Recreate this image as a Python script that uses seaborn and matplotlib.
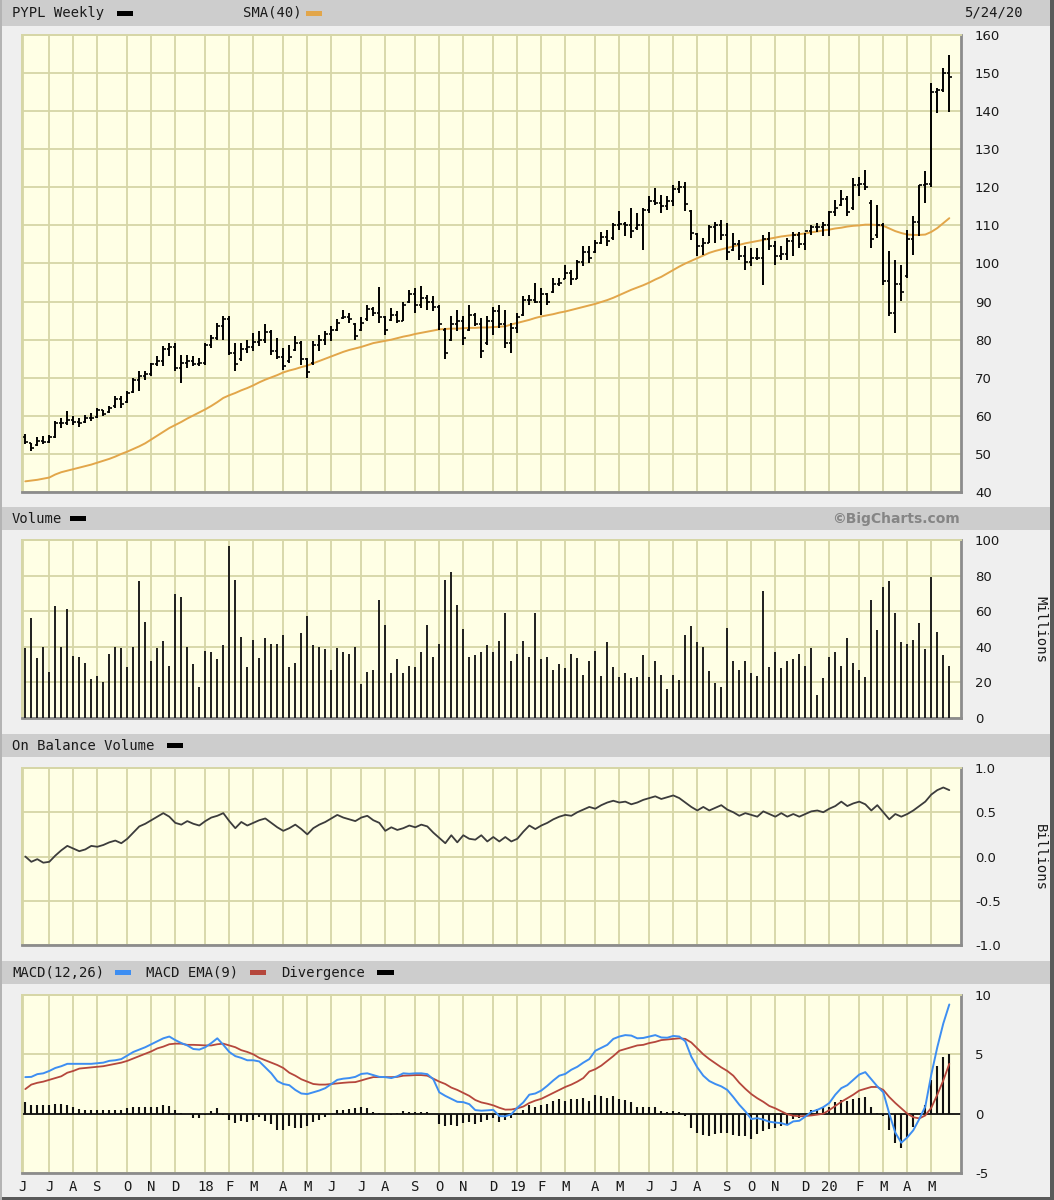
import numpy as np
import pandas as pd
import matplotlib
matplotlib.use("Agg")
import matplotlib.pyplot as plt
import seaborn as sns
from matplotlib.patches import Rectangle

# ---------------- data (weekly bars, PYPL) ----------------
first_week = "2017-06-09"
month_letters = ["J", "F", "M", "A", "M", "J", "J", "A", "S", "O", "N", "D"]

high = [55.2, 52.9, 54.5, 54.6, 55.0, 58.6, 59.5, 61.2, 59.9, 59.5,
        60.3, 60.8, 62.1, 61.6, 62.5, 65.1, 65.1, 66.4, 70.0, 71.7,
        71.7, 73.9, 75.6, 78.3, 79.1, 79.1, 76.1, 76.1, 75.6, 75.2,
        79.1, 81.3, 84.4, 86.1, 86.1, 79.1, 79.1, 80.0, 81.8, 82.2,
        84.0, 82.6, 80.4, 77.8, 78.7, 80.9, 79.6, 75.2, 79.6, 81.3,
        82.2, 83.5, 85.3, 87.9, 87.0, 84.4, 86.0, 89.0, 88.7, 93.8,
        86.1, 88.3, 87.4, 90.0, 93.0, 93.6, 94.0, 91.8, 91.4, 89.0,
        83.0, 86.1, 87.9, 86.1, 89.0, 86.9, 85.7, 86.1, 88.7, 89.0,
        87.9, 84.4, 87.0, 91.4, 91.8, 94.9, 93.6, 92.3, 96.2, 96.2,
        99.7, 98.4, 101.0, 104.5, 104.5, 106.3, 108.4, 108.9, 110.6, 113.7,
        111.0, 114.5, 113.3, 114.5, 117.6, 119.8, 118.0, 117.6, 120.7, 121.6,
        121.5, 114.1, 108.0, 106.7, 110.2, 111.0, 111.5, 110.6, 108.0, 106.2,
        104.5, 104.1, 104.1, 107.6, 108.4, 105.8, 104.5, 106.7, 108.4, 108.4,
        108.0, 110.2, 110.6, 111.0, 113.7, 116.7, 119.4, 117.6, 122.4, 122.8,
        124.6, 116.7, 115.4, 110.6, 103.2, 101.0, 99.7, 108.9, 112.4, 120.7,
        124.2, 147.3, 146.0, 151.3, 154.8]

low = [52.5, 50.7, 52.0, 52.5, 52.9, 54.2, 56.8, 57.7, 57.7, 57.1,
       58.1, 58.6, 59.5, 59.9, 60.8, 62.1, 62.1, 63.4, 66.0, 66.4,
       69.5, 70.4, 73.0, 73.0, 75.6, 71.7, 68.6, 72.6, 73.0, 73.0,
       73.4, 77.8, 80.0, 80.0, 76.1, 71.7, 74.3, 76.5, 77.0, 78.3,
       79.1, 76.1, 74.8, 72.1, 73.9, 76.9, 73.4, 70.0, 73.4, 76.9,
       78.7, 79.6, 82.2, 85.3, 84.4, 80.0, 82.2, 85.0, 86.1, 84.4,
       81.3, 84.8, 84.4, 84.8, 89.6, 87.0, 88.3, 87.9, 87.4, 82.6,
       74.8, 79.6, 82.2, 78.7, 82.2, 83.5, 75.2, 78.7, 81.3, 83.0,
       77.8, 76.5, 81.8, 86.1, 89.2, 89.6, 86.6, 89.2, 92.3, 94.0,
       95.8, 94.4, 95.8, 99.3, 100.0, 102.8, 105.0, 104.5, 106.3, 108.9,
       107.1, 106.7, 108.9, 103.6, 113.3, 115.4, 113.3, 114.1, 115.0, 118.5,
       113.7, 106.2, 101.9, 102.3, 105.4, 105.4, 106.2, 101.0, 103.2, 101.0,
       98.4, 99.3, 101.0, 94.4, 103.6, 99.7, 101.0, 101.0, 101.9, 104.1,
       103.6, 107.6, 108.4, 107.1, 107.1, 112.4, 115.0, 112.4, 114.1, 117.6,
       119.4, 104.1, 106.7, 94.4, 86.1, 81.8, 90.1, 96.2, 102.3, 107.1,
       115.9, 120.2, 139.5, 145.1, 139.9]

open_ = [54.5, 52.8, 52.3, 53.5, 53.0, 54.5, 58.0, 58.0, 59.0, 58.5,
         58.3, 59.5, 59.8, 61.5, 61.0, 62.5, 64.5, 63.6, 66.3, 69.5,
         70.5, 71.0, 73.5, 74.5, 77.5, 78.0, 72.5, 74.0, 74.5, 73.5,
         74.0, 78.5, 80.5, 83.5, 85.5, 76.5, 74.8, 77.5, 78.0, 79.5,
         80.0, 82.0, 77.0, 75.5, 74.3, 77.2, 79.0, 75.0, 73.8, 78.5,
         80.0, 81.5, 82.5, 85.6, 86.0, 84.0, 82.5, 85.3, 88.0, 87.0,
         86.0, 85.2, 86.5, 85.0, 89.9, 92.0, 89.0, 91.0, 90.0, 88.5,
         82.5, 80.0, 84.0, 85.0, 82.5, 86.5, 84.0, 79.0, 85.0, 87.5,
         84.0, 79.0, 83.0, 86.5, 90.5, 90.5, 90.0, 92.0, 92.6, 94.5,
         96.0, 97.5, 96.0, 100.5, 103.0, 103.0, 105.5, 107.0, 106.6, 110.0,
         110.5, 110.0, 109.2, 110.0, 114.0, 116.5, 116.0, 115.0, 116.5, 119.5,
         120.0, 113.8, 107.8, 104.5, 105.5, 109.5, 110.0, 107.5, 103.5, 105.0,
         102.0, 100.5, 101.5, 101.5, 106.5, 104.5, 102.0, 102.5, 106.0, 107.5,
         105.0, 108.5, 109.5, 109.5, 110.0, 113.5, 115.3, 117.0, 114.5, 120.5,
         121.0, 116.0, 107.5, 110.0, 95.5, 87.0, 94.5, 96.8, 106.5, 111.0,
         120.5, 121.0, 145.0, 145.5, 150.0]

close = [53.0, 51.5, 53.5, 53.0, 54.5, 58.0, 58.0, 59.0, 58.5, 58.0,
         59.5, 59.5, 61.5, 60.5, 62.0, 64.5, 63.0, 66.0, 69.5, 70.5,
         71.0, 73.5, 74.5, 77.5, 78.0, 72.5, 74.0, 74.5, 73.5, 74.0,
         78.5, 80.5, 83.5, 85.5, 76.5, 73.5, 77.5, 78.0, 79.5, 80.0,
         82.0, 77.0, 75.5, 73.0, 75.5, 79.0, 75.0, 71.5, 78.5, 80.0,
         81.5, 82.5, 84.5, 86.0, 85.5, 81.0, 84.5, 88.0, 87.0, 86.0,
         82.5, 86.5, 85.0, 89.0, 92.0, 89.0, 91.0, 90.0, 88.5, 84.0,
         76.5, 84.0, 85.0, 80.5, 86.5, 84.0, 77.0, 85.0, 87.5, 84.0,
         79.0, 83.0, 86.0, 90.5, 90.5, 90.0, 92.0, 90.0, 94.5, 95.0,
         97.5, 96.0, 100.5, 103.0, 101.5, 105.5, 107.0, 106.0, 110.0, 110.5,
         110.0, 108.5, 110.0, 114.0, 116.5, 116.0, 115.0, 116.5, 119.5, 120.0,
         115.5, 108.0, 104.5, 105.5, 109.5, 110.0, 107.5, 103.0, 105.0, 102.0,
         100.5, 101.5, 101.5, 106.5, 104.5, 102.0, 102.5, 106.0, 107.5, 105.0,
         108.5, 109.5, 109.5, 110.0, 113.5, 114.5, 117.0, 113.5, 120.5, 121.0,
         120.0, 106.5, 110.0, 95.5, 87.0, 94.5, 92.5, 106.5, 111.0, 120.5,
         121.0, 145.0, 145.5, 150.0, 149.0]

sma40 = [42.8, 43.0, 43.2, 43.5, 43.8, 44.6, 45.2, 45.6, 46.0, 46.4,
         46.8, 47.2, 47.7, 48.2, 48.7, 49.3, 50.0, 50.6, 51.3, 52.0,
         52.8, 53.8, 54.8, 55.8, 56.8, 57.6, 58.4, 59.3, 60.1, 60.9,
         61.7, 62.6, 63.6, 64.7, 65.4, 66.0, 66.7, 67.3, 68.0, 68.8,
         69.5, 70.1, 70.7, 71.4, 71.9, 72.3, 72.8, 73.2, 73.8, 74.4,
         75.0, 75.6, 76.2, 76.8, 77.3, 77.7, 78.1, 78.6, 79.1, 79.4,
         79.7, 80.0, 80.4, 80.8, 81.1, 81.5, 81.8, 82.1, 82.4, 82.7,
         82.8, 82.9, 82.9, 83.0, 83.1, 83.1, 83.2, 83.2, 83.3, 83.4,
         83.5, 84.0, 84.4, 84.8, 85.2, 85.7, 86.1, 86.4, 86.7, 87.1,
         87.4, 87.8, 88.2, 88.6, 89.0, 89.4, 89.9, 90.4, 91.0, 91.7,
         92.4, 93.1, 93.7, 94.3, 95.0, 95.8, 96.5, 97.4, 98.3, 99.2,
         100.0, 100.7, 101.4, 102.1, 102.8, 103.3, 103.7, 104.1, 104.5, 104.9,
         105.3, 105.6, 105.9, 106.2, 106.5, 106.8, 107.1, 107.3, 107.5, 107.7,
         107.9, 108.2, 108.4, 108.7, 108.9, 109.2, 109.4, 109.7, 109.9, 110.0,
         110.2, 110.2, 110.1, 109.9, 109.2, 108.5, 108.0, 107.6, 107.5, 107.5,
         107.6, 108.3, 109.3, 110.6, 111.9]

volume_m = [39.5, 56.4, 33.5, 40.0, 26.0, 63.0, 40.0, 61.3, 35.0, 34.5,
            31.1, 22.0, 23.8, 20.5, 35.9, 40.0, 39.5, 28.9, 40.0, 76.9,
            54.0, 32.0, 39.5, 43.4, 29.4, 69.6, 68.0, 40.0, 30.4, 17.3,
            37.6, 36.9, 33.0, 41.0, 96.5, 77.7, 45.6, 28.9, 44.1, 33.5,
            45.0, 41.7, 41.7, 46.6, 28.9, 31.1, 47.5, 57.2, 41.0, 40.0,
            38.5, 27.0, 39.5, 36.9, 36.1, 40.0, 19.0, 26.0, 27.2, 66.3,
            52.5, 25.5, 33.0, 25.5, 29.4, 28.9, 36.9, 52.5, 34.5, 41.7,
            77.7, 81.8, 63.7, 49.9, 34.5, 35.4, 36.9, 41.0, 36.9, 43.4,
            59.0, 32.0, 36.1, 43.4, 34.5, 59.0, 33.0, 34.5, 27.0, 30.4,
            27.9, 36.1, 33.5, 24.4, 32.0, 37.6, 23.8, 42.6, 28.9, 23.1,
            25.5, 22.2, 23.1, 35.2, 23.1, 32.0, 24.4, 16.4, 24.4, 21.4,
            46.6, 51.6, 42.6, 40.0, 26.3, 19.7, 17.3, 50.7, 32.0, 27.0,
            32.0, 25.5, 23.8, 71.1, 28.9, 36.9, 27.9, 32.0, 33.0, 36.1,
            29.4, 39.5, 13.0, 22.2, 34.5, 36.9, 29.4, 45.0, 31.1, 27.0,
            23.1, 66.3, 49.2, 73.7, 76.7, 59.0, 42.6, 41.7, 44.1, 53.1,
            38.5, 79.3, 48.2, 35.2, 29.4]

obv_b = [0.00, -0.06, -0.03, -0.07, -0.06, 0.01, 0.07, 0.12, 0.09, 0.06,
         0.08, 0.12, 0.11, 0.13, 0.16, 0.18, 0.15, 0.20, 0.27, 0.34,
         0.37, 0.41, 0.45, 0.49, 0.45, 0.38, 0.36, 0.40, 0.37, 0.35,
         0.40, 0.44, 0.46, 0.49, 0.40, 0.32, 0.39, 0.35, 0.38, 0.41,
         0.43, 0.38, 0.33, 0.29, 0.32, 0.36, 0.31, 0.25, 0.32, 0.36,
         0.39, 0.43, 0.47, 0.44, 0.42, 0.40, 0.44, 0.46, 0.41, 0.38,
         0.29, 0.33, 0.30, 0.32, 0.35, 0.33, 0.36, 0.34, 0.27, 0.21,
         0.15, 0.24, 0.16, 0.24, 0.20, 0.19, 0.24, 0.17, 0.22, 0.17,
         0.22, 0.17, 0.20, 0.28, 0.35, 0.31, 0.35, 0.38, 0.42, 0.45,
         0.47, 0.46, 0.50, 0.53, 0.56, 0.54, 0.58, 0.61, 0.63, 0.61,
         0.62, 0.59, 0.61, 0.64, 0.66, 0.68, 0.65, 0.67, 0.69, 0.66,
         0.61, 0.56, 0.52, 0.56, 0.52, 0.55, 0.58, 0.53, 0.50, 0.46,
         0.49, 0.47, 0.45, 0.51, 0.48, 0.45, 0.49, 0.45, 0.48, 0.45,
         0.48, 0.51, 0.52, 0.50, 0.54, 0.57, 0.62, 0.57, 0.60, 0.62,
         0.59, 0.52, 0.58, 0.50, 0.42, 0.48, 0.45, 0.48, 0.52, 0.57,
         0.62, 0.70, 0.75, 0.78, 0.75]

macd = [3.08, 3.10, 3.33, 3.40, 3.60, 3.85, 4.00, 4.20, 4.20, 4.20,
        4.20, 4.20, 4.25, 4.30, 4.45, 4.50, 4.60, 4.90, 5.20, 5.40,
        5.60, 5.85, 6.10, 6.35, 6.50, 6.20, 5.95, 5.75, 5.45, 5.40,
        5.60, 5.95, 6.35, 5.80, 5.20, 4.85, 4.70, 4.50, 4.50, 4.40,
        3.90, 3.40, 2.75, 2.50, 2.40, 2.00, 1.70, 1.65, 1.80, 1.95,
        2.15, 2.50, 2.85, 2.95, 3.00, 3.10, 3.35, 3.40, 3.25, 3.10,
        3.08, 3.00, 3.15, 3.40, 3.36, 3.40, 3.40, 3.33, 2.90, 1.80,
        1.50, 1.25, 1.00, 0.97, 0.80, 0.30, 0.25, 0.28, 0.32, -0.20,
        -0.22, -0.05, 0.50, 0.95, 1.60, 1.70, 1.95, 2.35, 2.80, 3.20,
        3.35, 3.70, 3.95, 4.30, 4.60, 5.30, 5.55, 5.80, 6.30, 6.50,
        6.62, 6.58, 6.35, 6.38, 6.50, 6.62, 6.42, 6.40, 6.55, 6.50,
        6.10, 4.80, 3.90, 3.20, 2.75, 2.50, 2.30, 2.00, 1.40, 0.75,
        0.20, -0.45, -0.38, -0.50, -0.68, -0.75, -0.80, -0.95, -0.65, -0.60,
        -0.25, 0.15, 0.32, 0.55, 0.90, 1.60, 2.15, 2.40, 2.85, 3.30,
        3.50, 2.90, 2.30, 1.80, 0.00, -1.60, -2.45, -2.00, -1.40, -0.45,
        0.60, 3.30, 5.60, 7.60, 9.20]

macd_ema9 = [2.07, 2.45, 2.60, 2.70, 2.85, 3.00, 3.15, 3.45, 3.60, 3.80,
             3.85, 3.90, 3.95, 4.00, 4.10, 4.20, 4.30, 4.45, 4.65, 4.85,
             5.05, 5.25, 5.50, 5.65, 5.85, 5.90, 5.90, 5.80, 5.80, 5.78,
             5.75, 5.75, 5.85, 5.90, 5.75, 5.60, 5.35, 5.20, 5.00, 4.70,
             4.50, 4.30, 4.10, 3.85, 3.45, 3.20, 2.90, 2.70, 2.50, 2.45,
             2.45, 2.50, 2.55, 2.60, 2.64, 2.66, 2.80, 2.95, 3.08, 3.08,
             3.08, 3.08, 3.10, 3.20, 3.22, 3.25, 3.25, 3.20, 2.95, 2.70,
             2.50, 2.20, 2.00, 1.75, 1.50, 1.15, 0.95, 0.84, 0.70, 0.50,
             0.34, 0.35, 0.45, 0.60, 0.90, 1.10, 1.25, 1.50, 1.75, 2.00,
             2.25, 2.45, 2.70, 3.00, 3.55, 3.75, 4.05, 4.45, 4.85, 5.30,
             5.45, 5.60, 5.75, 5.80, 5.95, 6.05, 6.20, 6.25, 6.30, 6.35,
             6.30, 6.00, 5.50, 5.00, 4.60, 4.25, 3.90, 3.60, 3.20, 2.60,
             2.10, 1.65, 1.30, 1.00, 0.65, 0.45, 0.20, -0.05, -0.17, -0.22,
             -0.20, -0.15, -0.08, 0.00, 0.30, 0.65, 1.00, 1.30, 1.60, 1.95,
             2.10, 2.25, 2.25, 2.00, 1.40, 0.90, 0.45, 0.00, -0.30, -0.40,
             -0.15, 0.50, 1.60, 2.80, 4.20]

divergence = [0.95, 0.70, 0.70, 0.70, 0.75, 0.85, 0.85, 0.75, 0.60, 0.40,
              0.35, 0.30, 0.30, 0.30, 0.35, 0.30, 0.30, 0.45, 0.55, 0.55,
              0.55, 0.60, 0.60, 0.70, 0.65, 0.30, 0.05, -0.05, -0.35, -0.38,
              -0.15, 0.20, 0.50, -0.10, -0.55, -0.75, -0.65, -0.70, -0.50, -0.30,
              -0.60, -0.90, -1.35, -1.35, -1.05, -1.20, -1.20, -1.05, -0.70, -0.50,
              -0.30, 0.00, 0.30, 0.35, 0.36, 0.44, 0.55, 0.45, 0.17, 0.02,
              0.00, -0.08, 0.05, 0.20, 0.14, 0.15, 0.15, 0.13, -0.05, -0.90,
              -1.00, -0.95, -1.00, -0.78, -0.70, -0.85, -0.70, -0.56, -0.38, -0.70,
              -0.56, -0.40, 0.05, 0.35, 0.70, 0.60, 0.70, 0.85, 1.05, 1.20,
              1.10, 1.25, 1.25, 1.30, 1.05, 1.55, 1.50, 1.35, 1.45, 1.20,
              1.17, 0.98, 0.60, 0.58, 0.55, 0.57, 0.22, 0.15, 0.25, 0.15,
              -0.20, -1.20, -1.60, -1.80, -1.85, -1.75, -1.60, -1.60, -1.80, -1.85,
              -1.90, -2.10, -1.68, -1.50, -1.33, -1.20, -1.00, -0.90, -0.48, -0.38,
              -0.05, 0.30, 0.40, 0.55, 0.60, 0.95, 1.15, 1.10, 1.25, 1.35,
              1.40, 0.60, 0.05, -0.20, -1.40, -2.50, -2.90, -2.00, -1.10, -0.05,
              0.75, 2.80, 4.00, 4.80, 5.00]

series = dict(high=high, low=low, open=open_, close=close, sma=sma40, vol=volume_m,
              obv=obv_b, macd=macd, ema=macd_ema9, div=divergence)
for k, v in series.items():
    assert len(v) == len(close), (k, len(v))

df = pd.DataFrame(series)
df["idx"] = np.arange(len(df))
df["date"] = pd.date_range(first_week, periods=len(df), freq="W-FRI")

# ---------------- styling ----------------
sns.set_style("white")
plt.rcParams["font.family"] = ["DejaVu Sans"]
plt.rcParams["axes.unicode_minus"] = False

W, H = 1054, 1200
BG = "#EFEFEF"
HEAD = "#CDCDCD"
PANEL = "#FFFFE5"
GRID = "#D6D6A6"
TXT = "#1A1A1A"
MONO = "DejaVu Sans Mono"

fig = plt.figure(figsize=(W / 100, H / 100), dpi=100, facecolor=BG)


def fbox(x0, y0, x1, y1):
    return [x0 / W, 1 - y1 / H, (x1 - x0) / W, (y1 - y0) / H]


def ftext(x, y, s, **kw):
    kw.setdefault("va", "center")
    kw.setdefault("color", TXT)
    fig.text(x / W, 1 - y / H, s, **kw)


def swatch(x0, y0, x1, y1, color):
    fig.add_artist(Rectangle((x0 / W, 1 - y1 / H), (x1 - x0) / W, (y1 - y0) / H,
                             transform=fig.transFigure, facecolor=color,
                             edgecolor="none", zorder=3))


# header bands
for (y0, y1) in [(0, 26), (507, 530), (734, 757), (961, 984)]:
    fig.add_artist(Rectangle((0, 1 - y1 / H), 1, (y1 - y0) / H, transform=fig.transFigure,
                             facecolor=HEAD, edgecolor="none", zorder=0))
# outer frame edges
fig.add_artist(Rectangle((1050 / W, 0), 4 / W, 1, transform=fig.transFigure,
                         facecolor="#5A5A5A", edgecolor="none", zorder=0))
fig.add_artist(Rectangle((0, 0), 1, 3 / H, transform=fig.transFigure,
                         facecolor="#5A5A5A", edgecolor="none", zorder=0))
fig.add_artist(Rectangle((0, 0), 2 / W, 1, transform=fig.transFigure,
                         facecolor="#B4B4B4", edgecolor="none", zorder=0))

ax_p = fig.add_axes(fbox(22, 35, 961, 492))
ax_v = fig.add_axes(fbox(22, 540, 961, 718))
ax_o = fig.add_axes(fbox(22, 768, 961, 945))
ax_m = fig.add_axes(fbox(22, 995, 961, 1173))
axes = [ax_p, ax_v, ax_o, ax_m]

# month ticks (first weekly bar of each month)
month_pos = [-0.4]
month_lab = ["J"]
for i in range(1, len(df)):
    d, dp = df["date"][i], df["date"][i - 1]
    if d.month != dp.month:
        month_pos.append(i)
        month_lab.append(f"{d.year % 100:02d}" if d.month == 1 else month_letters[d.month - 1])

x0_lim, x1_lim = -0.55, 155.95
for ax in axes:
    ax.set_facecolor(PANEL)
    ax.set_xlim(x0_lim, x1_lim)
    ax.set_xticks(month_pos)
    ax.set_axisbelow(True)
    ax.grid(True, color=GRID, linewidth=1.3)
    ax.yaxis.tick_right()
    ax.tick_params(axis="y", length=0, pad=10, labelsize=9.5, labelcolor=TXT)
    ax.tick_params(axis="x", length=0, labelbottom=False)
    for s in ("top", "left"):
        ax.spines[s].set_color(GRID)
        ax.spines[s].set_linewidth(1.4)
    for s in ("right", "bottom"):
        ax.spines[s].set_color("#8C8C8C")
        ax.spines[s].set_linewidth(2.0)

# ---------------- price panel ----------------
x = df["idx"].to_numpy()
ax_p.vlines(x, df["low"], df["high"], colors="black", linewidth=1.4, zorder=3)
ax_p.hlines(df["open"], x - 0.38, x, colors="black", linewidth=1.2, zorder=3)
ax_p.hlines(df["close"], x, x + 0.38, colors="black", linewidth=1.2, zorder=3)
sns.lineplot(data=df, x="idx", y="sma", ax=ax_p, color="#E2A64A", linewidth=1.4, zorder=2)
ax_p.set_ylim(40, 160)
ax_p.set_yticks(np.arange(40, 161, 10))
ax_p.set_xlabel("")
ax_p.set_ylabel("")

# ---------------- volume panel ----------------
ax_v.vlines(x, 0, df["vol"], colors="#1E1E1E", linewidth=1.4, zorder=3)
ax_v.set_ylim(0, 100)
ax_v.set_yticks(np.arange(0, 101, 20))

# ---------------- OBV panel ----------------
sns.lineplot(data=df, x="idx", y="obv", ax=ax_o, color="#3C3C3C", linewidth=1.3, zorder=3)
ax_o.set_ylim(-1, 1)
ax_o.set_yticks([-1.0, -0.5, 0.0, 0.5, 1.0])
ax_o.set_yticklabels(["-1.0", "-0.5", "0.0", "0.5", "1.0"])
ax_o.set_xlabel("")
ax_o.set_ylabel("")

# ---------------- MACD panel ----------------
ax_m.vlines(x, 0, df["div"], colors="#111111", linewidth=1.5, zorder=2)
ax_m.axhline(0, color="#111111", linewidth=1.3, zorder=2)
sns.lineplot(data=df, x="idx", y="ema", ax=ax_m, color="#B5473C", linewidth=1.3, zorder=3)
sns.lineplot(data=df, x="idx", y="macd", ax=ax_m, color="#3D8EF2", linewidth=1.4, zorder=4)
ax_m.set_ylim(-5, 10)
ax_m.set_yticks([-5, 0, 5, 10])
ax_m.set_xlabel("")
ax_m.set_ylabel("")
ax_m.tick_params(axis="x", labelbottom=True, pad=5, labelsize=10, labelcolor=TXT)
ax_m.set_xticklabels(month_lab, family=MONO)

for ax in axes:
    ax.set_xlim(x0_lim, x1_lim)

# ---------------- header texts ----------------
ftext(12, 13, "PYPL Weekly", family=MONO, size=10)
swatch(117, 11, 133, 16, "black")
ftext(243, 13, "SMA(40)", family=MONO, size=10)
swatch(306, 11, 322, 16, "#E2A64A")
ftext(1023, 13, "5/24/20", family=MONO, size=10, ha="right")

ftext(12, 519, "Volume", family=MONO, size=10)
swatch(70, 516, 86, 521, "black")
ftext(960, 519, "\u00a9BigCharts.com", size=10, weight="bold", color="#858585", ha="right")

ftext(12, 746, "On Balance Volume", family=MONO, size=10)
swatch(167, 743, 183, 748, "black")

ftext(12, 973, "MACD(12,26)", family=MONO, size=10)
swatch(115, 970, 131, 975, "#3D8EF2")
ftext(146, 973, "MACD EMA(9)", family=MONO, size=10)
swatch(250, 970, 266, 975, "#B5473C")
ftext(281, 973, "Divergence", family=MONO, size=10)
swatch(377, 970, 394, 975, "black")

ftext(1040, 630, "Millions", family=MONO, size=10, rotation=270, ha="center")
ftext(1040, 857, "Billions", family=MONO, size=10, rotation=270, ha="center")

fig.savefig("out.png", dpi=100, facecolor=BG)
